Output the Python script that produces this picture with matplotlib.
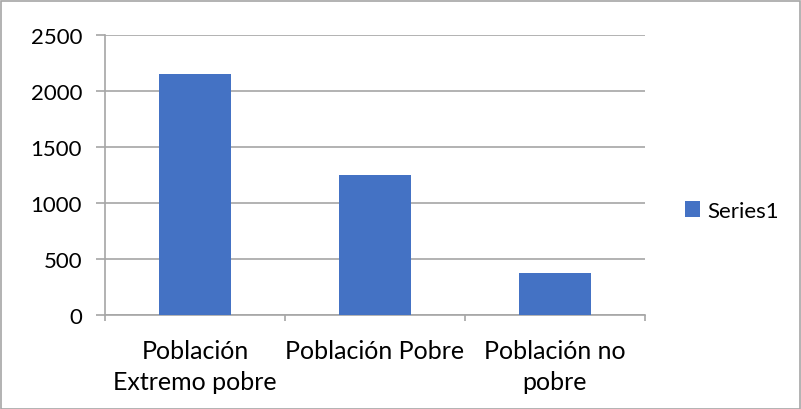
import matplotlib
matplotlib.use("Agg")
import matplotlib.pyplot as plt
from matplotlib.patches import Rectangle
import numpy as np

categories = ["Población\nExtremo pobre", "Población Pobre", "Población no\npobre"]
values = [2150, 1253, 375]
series_name = "Series1"
y_ticks = [0, 500, 1000, 1500, 2000, 2500]

bar_color = "#4472C4"
grid_color = "#A6A6A6"
axis_color = "#A6A6A6"
text_color = "#000000"

plt.rcParams["font.family"] = ["Lato", "DejaVu Sans"]

W, H = 801, 410
fig = plt.figure(figsize=(W / 100, H / 100), dpi=100)
ax = fig.add_axes([105 / W, 1 - 316 / H, (645 - 105) / W, (316 - 36) / H])

x = np.arange(len(categories))
ax.bar(x, values, width=0.4, color=bar_color, label=series_name, zorder=3)

ax.set_xlim(-0.5, len(categories) - 0.5)
ax.set_ylim(0, 2500)
ax.set_yticks(y_ticks)
ax.set_yticklabels([str(v) for v in y_ticks], fontsize=16, color=text_color)
ax.yaxis.grid(True, color=grid_color, linewidth=1.2, zorder=0)
ax.tick_params(axis="y", length=6.5, width=1.2, color=grid_color, pad=10)

# category boundaries carry the x tick marks; labels sit between them
ax.set_xticks(np.arange(len(categories) + 1) - 0.5)
ax.set_xticklabels([])
ax.tick_params(axis="x", length=4.3, width=1.2, color=axis_color)
for xi, lab in zip(x, categories):
    ax.text(xi, -0.087, lab, transform=ax.get_xaxis_transform(), ha="center",
            va="top", fontsize=18, color=text_color, linespacing=1.4)

for side in ["top", "right"]:
    ax.spines[side].set_visible(False)
ax.spines["left"].set_color(axis_color)
ax.spines["left"].set_linewidth(1.2)
ax.spines["bottom"].set_color(axis_color)
ax.spines["bottom"].set_linewidth(1.2)

leg = fig.legend(loc="center left", bbox_to_anchor=(676 / W, 1 - 212 / H),
                 frameon=False, fontsize=16, handlelength=0.7, handleheight=0.7,
                 handletextpad=0.3, borderaxespad=0)

# outer chart border
fig.patches.append(Rectangle((0.5 / W, 0.5 / H), (W - 1.5) / W, (H - 2) / H,
                             transform=fig.transFigure, fill=False,
                             edgecolor="#A6A6A6", linewidth=1.2))

fig.savefig("out.png", dpi=100)
